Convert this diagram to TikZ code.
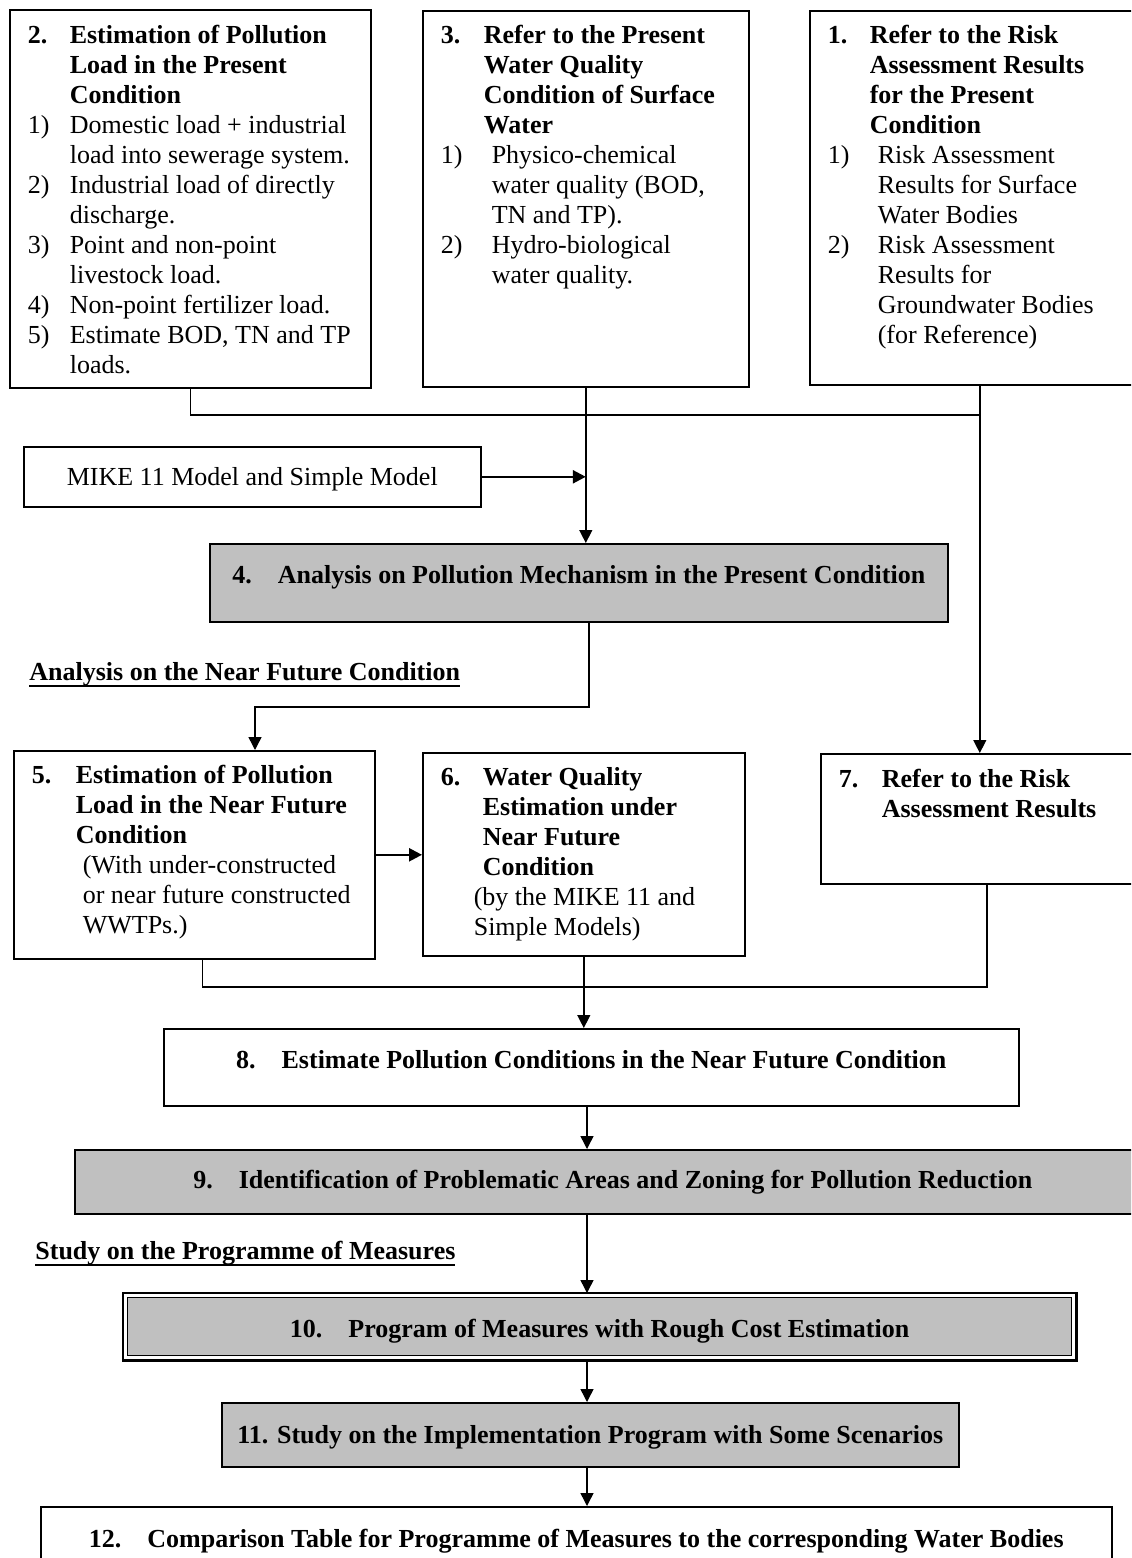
\documentclass[tikz,border=0pt]{standalone}
\usepackage{fontspec}
\setmainfont{Liberation Serif}
\usetikzlibrary{arrows.meta}
\definecolor{boxgrey}{RGB}{192,192,192}
% width, height, space above first line, contents
\newcommand{\boxtext}[4]{\parbox[c][#2][t]{#1}{\vspace*{#3}\parindent=0pt\leftskip=9pt\rightskip=0pt plus 1fil\hyphenpenalty=10000 #4}}
\newcommand{\linetext}[4]{\parbox[c][#2][t]{#1}{\vspace*{#3}\centering\strut #4}}
% hanging indent, label, text
\newcommand{\nitem}[3]{\par\hangindent=#1\hangafter=1\noindent\makebox[#1][l]{\strut#2}#3\par}
\newcommand{\ulinetext}[1]{\setbox0=\hbox{#1}\rlap{\rule[-3.6pt]{\wd0}{1.3pt}}\box0}
\tikzset{
  plainbox/.style={draw, line width=0.8pt, inner sep=0pt, anchor=north west, font=\fontsize{13}{15}\selectfont},
  greybox/.style={plainbox, fill=boxgrey},
  heading/.style={inner sep=0pt, anchor=base west, font=\fontsize{13}{15}\selectfont\bfseries},
  link/.style={line width=0.7pt},
  flow/.style={link, -{Triangle[length=6.5pt,width=6.5pt]}},
}
\begin{document}
\begin{tikzpicture}[x=0.5pt,y=-0.5pt]
  \useasboundingbox (0,0) rectangle (1131,1558);
  \clip (0,0) rectangle (1131,1558);
  \node[plainbox] (b2) at (9,9) {\boxtext{180.5pt}{189pt}{6.5pt}{%
    \nitem{21pt}{\textbf{2.}}{\textbf{Estimation of Pollution\newline Load in the Present\newline Condition}}
    \nitem{21pt}{1)}{Domestic load + industrial\newline load into sewerage system.}
    \nitem{21pt}{2)}{Industrial load of directly\newline discharge.}
    \nitem{21pt}{3)}{Point and non-point\newline livestock load.}
    \nitem{21pt}{4)}{Non-point fertilizer load.}
    \nitem{21pt}{5)}{Estimate BOD, TN and TP\newline loads.}}};
  \node[plainbox] (b3) at (422,10) {\boxtext{163pt}{188pt}{6pt}{%
    \nitem{21.5pt}{\textbf{3.}}{\textbf{Refer to the Present\newline Water Quality\newline Condition of Surface\newline Water}}
    \nitem{25.5pt}{1)}{Physico-chemical\newline water quality (BOD,\newline TN and TP).}
    \nitem{25.5pt}{2)}{Hydro-biological\newline water quality.}}};
  \node[plainbox] (b1) at (809,10) {\boxtext{170pt}{187pt}{6pt}{%
    \nitem{21pt}{\textbf{1.}}{\textbf{Refer to the Risk\newline Assessment Results\newline for the Present\newline Condition}}
    \nitem{25pt}{1)}{Risk Assessment\newline Results for Surface\newline Water Bodies}
    \nitem{25pt}{2)}{Risk Assessment\newline Results for\newline Groundwater Bodies\newline (for Reference)}}};
  \node[plainbox] (mike) at (23,446) {\linetext{228.5pt}{30pt}{9pt}{MIKE 11 Model and Simple Model}};
  \node[greybox] (b4) at (209,543) {\linetext{369pt}{39pt}{9.5pt}{\bfseries 4.\quad Analysis on Pollution Mechanism in the Present Condition}};
  \node[heading] (h1) at (29,680) {\ulinetext{Analysis on the Near Future Condition}};
  \node[plainbox] (b5) at (13,750) {\boxtext{180.5pt}{104pt}{6pt}{%
    \nitem{22pt}{\textbf{5.}}{\textbf{Estimation of Pollution\newline Load in the Near Future\newline Condition}}
    \nitem{25.5pt}{}{(With under-constructed\newline or near future constructed\newline WWTPs.)}}};
  \node[plainbox] (b6) at (422,752) {\boxtext{161pt}{101.5pt}{6pt}{%
    \nitem{21pt}{\textbf{6.}}{\textbf{Water Quality\newline Estimation under\newline Near Future\newline Condition}}
    \nitem{16.5pt}{}{(by the MIKE 11 and\newline Simple Models)}}};
  \node[plainbox] (b7) at (820,753) {\boxtext{166pt}{65pt}{6.5pt}{%
    \nitem{21.5pt}{\textbf{7.}}{\textbf{Refer to the Risk\newline Assessment Results}}}};
  \node[plainbox] (b8) at (163,1028) {\linetext{427.5pt}{38.5pt}{9.5pt}{\bfseries 8.\quad Estimate Pollution Conditions in the Near Future Condition}};
  \node[greybox] (b9) at (74,1149) {\linetext{538pt}{32pt}{9pt}{\bfseries 9.\quad Identification of Problematic Areas and Zoning for Pollution Reduction}};
  \node[heading] (h2) at (35,1259) {\ulinetext{Study on the Programme of Measures}};
  \node[greybox, line width=0.6pt] (b10) at (127,1297) {\linetext{472pt}{29pt}{9.5pt}{\bfseries 10.\quad Program of Measures with Rough Cost Estimation}};
  \draw[line width=1.3pt] ([shift={(-2pt,2pt)}]b10.north west) rectangle ([shift={(2pt,-2pt)}]b10.south east);
  \node[greybox] (b11) at (221,1402) {\linetext{368.5pt}{32pt}{10pt}{\bfseries 11. Study on the Implementation Program with Some Scenarios}};
  \node[plainbox] (b12) at (40,1506) {\linetext{535.5pt}{37pt}{10pt}{\bfseries 12.\quad Comparison Table for Programme of Measures to the corresponding Water Bodies}};

  \coordinate (bus1) at (0,415);
  \coordinate (bus2) at (0,987);
  \coordinate (k1) at (255,707);
  \coordinate (spine) at (587,0);
  \coordinate (t10) at ([yshift=2pt]b10.north);
  \coordinate (s10) at ([yshift=-2pt]b10.south);
  \begin{scope}
    \draw[link] (b2.south) |- (b1.south |- bus1);
    \draw[flow] (b3.south) -- (b3.south |- b4.north);
    \draw[flow] (b1.south) -- (b1.south |- b7.north);
    \draw[flow, line width=1.2pt] (mike.east) -- (mike.east -| b3.south);
    \draw[flow] ([xshift=5pt]b4.south) |- (k1) -- (k1 |- b5.north);
    \draw[flow, line width=1.2pt] (b5.east) -- (b5.east -| b6.west);
    \draw[link] ([xshift=4pt]b5.south) |- (b7.south |- bus2) -- (b7.south);
    \draw[flow] (b6.south) -- (b6.south |- b8.north);
    \draw[flow] (b8.south -| spine) -- (b9.north -| spine);
    \draw[flow] (b9.south -| spine) -- (t10 -| spine);
    \draw[flow] (s10 -| spine) -- (b11.north -| spine);
    \draw[flow] (b11.south -| spine) -- (b12.north -| spine);
  \end{scope}
\end{tikzpicture}
\end{document}
